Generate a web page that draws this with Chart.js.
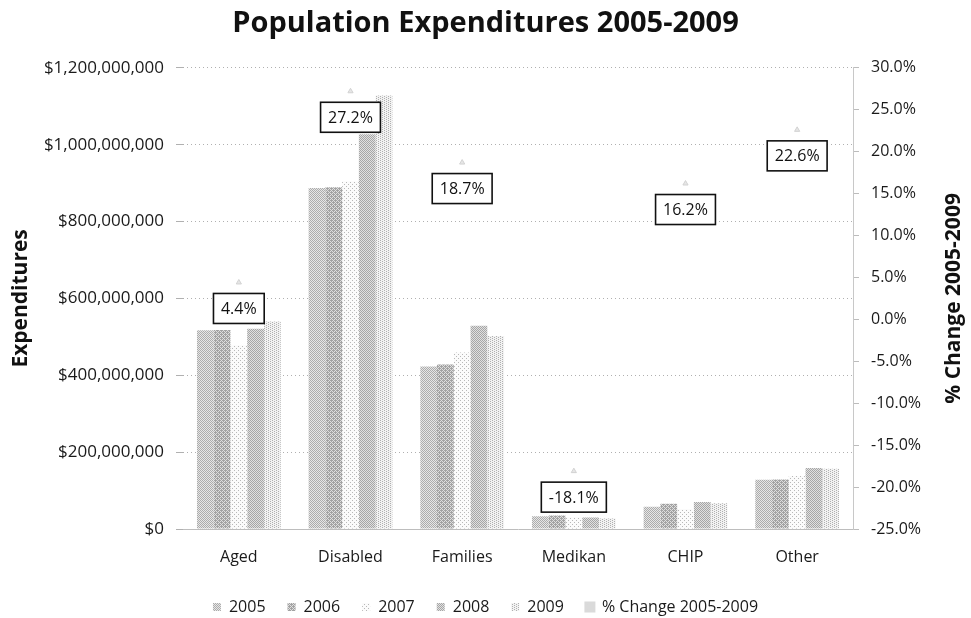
<!DOCTYPE html>
<html>
<head>
<meta charset="utf-8">
<title>Population Expenditures 2005-2009</title>
<script src="https://cdn.jsdelivr.net/npm/chart.js@4.4.1/dist/chart.umd.min.js"></script>
<style>
    html, body { margin: 0; padding: 0; background: #fff; }
    #wrap { width: 971px; height: 618px; position: relative; }
</style>
</head>
<body>
<div id="wrap"><canvas id="grafico"></canvas></div>
<script>
// categorias y datos
var categorias = ['Aged', 'Disabled', 'Families', 'Medikan', 'CHIP', 'Other'];
var anios = ['2005', '2006', '2007', '2008', '2009'];
var gasto2005 = [517000000, 887000000, 423000000, 33000000, 58000000, 128000000];
var gasto2006 = [518000000, 889000000, 428000000, 35000000, 66000000, 129000000];
var gasto2007 = [478000000, 905000000, 459000000, 31000000, 52000000, 138000000];
var gasto2008 = [521000000, 1027000000, 529000000, 30000000, 70000000, 159000000];
var gasto2009 = [540000000, 1128000000, 502000000, 27000000, 67000000, 157000000];
var cambio = [4.4, 27.2, 18.7, -18.1, 16.2, 22.6];
var ticksGasto = [0, 200000000, 400000000, 600000000, 800000000, 1000000000, 1200000000];
var ticksCambio = [-25, -20, -15, -10, -5, 0, 5, 10, 15, 20, 25, 30];

// tramas de puntos para las barras (escaneo en gris)
function trama(claro, oscuro, mascara) {
    var c = document.createElement('canvas');
    c.width = 4;
    c.height = 4;
    var ctx = c.getContext('2d');
    ctx.fillStyle = claro;
    ctx.fillRect(0, 0, 4, 4);
    ctx.fillStyle = oscuro;
    for (var i = 0; i < 16; i++) {
        if (mascara.charAt(i) === '1') {
            ctx.fillRect(i % 4, Math.floor(i / 4), 1, 1);
        }
    }
    return ctx.createPattern(c, 'repeat');
}

var color = [
    trama('#e6e6e6', '#acacac', '1010010110100101'),
    trama('#dedede', '#a2a2a2', '1011010111100101'),
    trama('#fbfbfb', '#b8b8b8', '1000000000100000'),
    trama('#e0e0e0', '#a6a6a6', '1010010110100101'),
    trama('#f2f2f2', '#b0b0b0', '1000001010000010')
];
var series = [gasto2005, gasto2006, gasto2007, gasto2008, gasto2009];

var datasets = [];
for (var i = 0; i < series.length; i++) {
    datasets.push({
        type: 'bar',
        label: anios[i],
        data: series[i],
        backgroundColor: color[i],
        borderWidth: 0,
        yAxisID: 'y',
        barPercentage: 1.0,
        categoryPercentage: 0.75,
        order: 2
    });
}
datasets.push({
    type: 'line',
    label: '% Change 2005-2009',
    data: cambio,
    yAxisID: 'y1',
    showLine: false,
    pointStyle: 'triangle',
    pointRadius: 3,
    pointBackgroundColor: '#e6e6e6',
    pointBorderColor: '#d2d2d2',
    pointBorderWidth: 1,
    backgroundColor: '#dadada',
    borderColor: '#dadada',
    order: 1
});

var fuente = "'Open Sans', 'DejaVu Sans', sans-serif";

// etiquetas con recuadro y titulos de ejes
var etiquetas = {
    id: 'etiquetas',
    afterDatasetsDraw: function(chart) {
        var ctx = chart.ctx;
        var meta = chart.getDatasetMeta(5);
        ctx.save();
        ctx.font = '16px ' + fuente;
        ctx.textAlign = 'center';
        ctx.textBaseline = 'middle';
        meta.data.forEach(function(p, k) {
            var txt = cambio[k].toFixed(1) + '%';
            var w = ctx.measureText(txt).width + 15;
            var h = 30;
            var cx = p.x;
            var cy = p.y + 26;
            ctx.fillStyle = '#fff';
            ctx.fillRect(cx - w / 2, cy - h / 2, w, h);
            ctx.lineWidth = 1.6;
            ctx.strokeStyle = '#111';
            ctx.strokeRect(cx - w / 2, cy - h / 2, w, h);
            ctx.fillStyle = '#111';
            ctx.fillText(txt, cx, cy + 1);
        });
        ctx.restore();
    },
    afterDraw: function(chart) {
        var ctx = chart.ctx;
        var area = chart.chartArea;
        var mid = (area.top + area.bottom) / 2;
        ctx.save();
        ctx.font = 'bold 21px ' + fuente;
        ctx.fillStyle = '#111';
        ctx.textAlign = 'center';
        ctx.textBaseline = 'middle';
        ctx.translate(21, mid);
        ctx.rotate(-Math.PI / 2);
        ctx.fillText('Expenditures', 0, 0);
        ctx.restore();
        ctx.save();
        ctx.font = 'bold 21px ' + fuente;
        ctx.fillStyle = '#111';
        ctx.textAlign = 'center';
        ctx.textBaseline = 'middle';
        ctx.translate(954, mid);
        ctx.rotate(-Math.PI / 2);
        ctx.fillText('% Change 2005-2009', 0, 0);
        ctx.restore();
    }
};

Chart.defaults.font.family = fuente;
Chart.defaults.font.size = 16;
Chart.defaults.color = '#1a1a1a';

var grafico = new Chart(document.getElementById('grafico'), {
    data: {
        labels: categorias,
        datasets: datasets
    },
    options: {
        responsive: true,
        maintainAspectRatio: false,
        animation: false,
        layout: {
            padding: { top: 0, left: 0, right: 0, bottom: -7 }
        },
        plugins: {
            title: {
                display: true,
                text: 'Population Expenditures 2005-2009',
                color: '#111',
                font: { size: 29, weight: 'bold' },
                padding: { top: 6, bottom: 27 }
            },
            legend: {
                position: 'bottom',
                labels: {
                    boxWidth: 8,
                    boxHeight: 8,
                    padding: 22,
                    font: { size: 16, lineHeight: 0.6 },
                    color: '#1a1a1a',
                    sort: function(a, b) { return a.datasetIndex - b.datasetIndex; }
                }
            },
            tooltip: { enabled: false }
        },
        scales: {
            x: {
                grid: { display: false },
                border: { color: '#bdbdbd', dash: [2, 2] },
                ticks: { padding: 12, font: { size: 16, lineHeight: 1.0 } }
            },
            y: {
                position: 'left',
                min: 0,
                max: 1200000000,
                afterFit: function(scale) { scale.width = 183; },
                afterBuildTicks: function(scale) {
                    scale.ticks = ticksGasto.map(function(v) { return { value: v }; });
                },
                grid: { color: '#b0b0b0', tickLength: 7, lineWidth: 1 },
                border: { display: false, dash: [1, 3] },
                ticks: {
                    padding: 12,
                    font: { size: 17 },
                    callback: function(v) { return '$' + v.toLocaleString('en-US'); }
                }
            },
            y1: {
                position: 'right',
                min: -25,
                max: 30,
                afterFit: function(scale) { scale.width = 118; },
                afterBuildTicks: function(scale) {
                    scale.ticks = ticksCambio.map(function(v) { return { value: v }; });
                },
                grid: { drawOnChartArea: false, color: '#bcbcbc', tickLength: 6 },
                border: { color: '#c8c8c8', dash: [1, 3] },
                ticks: {
                    padding: 12,
                    font: { size: 16 },
                    callback: function(v) { return v.toFixed(1) + '%'; }
                }
            }
        }
    },
    plugins: [etiquetas]
});
</script>
</body>
</html>
